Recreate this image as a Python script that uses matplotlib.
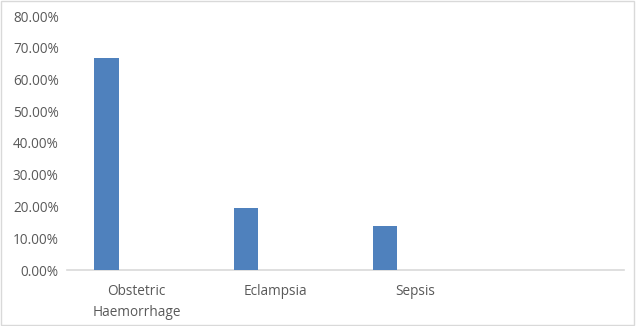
import numpy as np
import matplotlib
matplotlib.use('Agg')
import matplotlib.pyplot as plt
from matplotlib.ticker import PercentFormatter
from matplotlib.patches import Rectangle

# data
categories = ['Obstetric\nHaemorrhage', 'Eclampsia', 'Sepsis', '']
values = [66.67, 19.44, 13.89]
yticks = np.arange(0, 81, 10)

text_col = '#595959'
line_col = '#d9d9d9'
bar_col = '#4f81bd'

plt.rcParams['font.family'] = ['Open Sans', 'DejaVu Sans']

fig = plt.figure(figsize=(6.37, 3.26), dpi=100)
ax = fig.add_axes([67 / 637, 1 - 270 / 326, (624 - 67) / 637, (270 - 16) / 326])

# bars sit to the left of each category centre (empty second series)
x = np.arange(len(values))
ax.bar(x - 0.215, values, width=0.176, color=bar_col, zorder=3)

ax.set_xlim(-0.5, len(categories) - 0.5)
ax.set_ylim(0, 80)
ax.set_yticks(yticks)
ax.yaxis.set_major_formatter(PercentFormatter(decimals=2))
ax.set_xticks(np.arange(len(categories)))
ax.set_xticklabels(categories)

for s in ['top', 'right', 'left']:
    ax.spines[s].set_visible(False)
ax.spines['bottom'].set_color(line_col)
ax.spines['bottom'].set_linewidth(1.2)
ax.tick_params(length=0, colors=text_col)
ax.tick_params(axis='x', pad=10, labelsize=9.8)
ax.tick_params(axis='y', pad=6, labelsize=9.8)
for lbl in ax.get_xticklabels():
    lbl.set_linespacing(1.6)

# light border round the whole chart
fig.patches.append(Rectangle((0.002, 0.003), 0.994, 0.994, transform=fig.transFigure,
                             fill=False, edgecolor=line_col, linewidth=1))

fig.savefig('out.png', dpi=100)
